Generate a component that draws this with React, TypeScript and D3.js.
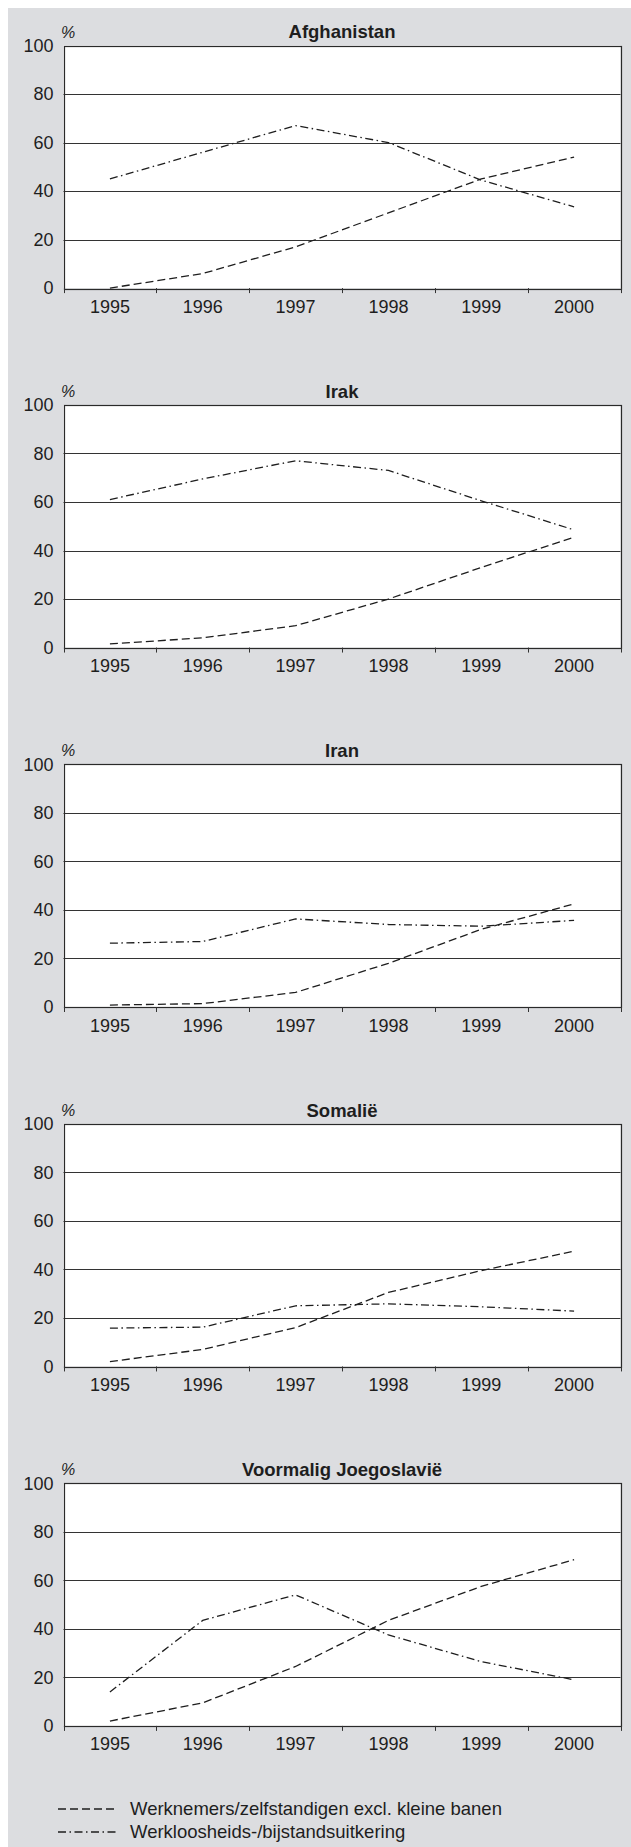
import React, { useRef, useEffect } from 'react';
import * as d3 from 'd3';

const years = ['1995', '1996', '1997', '1998', '1999', '2000'];
const countries = ['Afghanistan', 'Irak', 'Iran', 'Somalië', 'Voormalig Joegoslavië'];
const yTicks = [0, 20, 40, 60, 80, 100];

// Werknemers/zelfstandigen excl. kleine banen (dashed)
const afghanistanWerk = [0, 6, 17, 31, 45, 54];
const irakWerk = [1.5, 4, 9, 20, 33, 45.5];
const iranWerk = [0.8, 1.4, 6, 18, 32, 42.5];
const somalieWerk = [2, 7, 16, 30.5, 39.5, 47.5];
const joegoslavieWerk = [2, 9.5, 24.5, 43.5, 57.5, 68.5];

// Werkloosheids-/bijstandsuitkering (dash-dot)
const afghanistanUitk = [45, 56, 67, 60, 44.5, 33.5];
const irakUitk = [61, 69.5, 77, 73, 60.5, 48.5];
const iranUitk = [26.3, 27, 36.3, 34, 33.3, 35.7];
const somalieUitk = [15.8, 16.2, 25, 25.8, 24.6, 22.8];
const joegoslavieUitk = [14, 43.5, 54, 37.5, 26.5, 19];

const werkSeries = [afghanistanWerk, irakWerk, iranWerk, somalieWerk, joegoslavieWerk];
const uitkSeries = [afghanistanUitk, irakUitk, iranUitk, somalieUitk, joegoslavieUitk];

const legendLabels = ['Werknemers/zelfstandigen excl. kleine banen', 'Werkloosheids-/bijstandsuitkering'];

const DASH = '8,4';
const DASHDOT = '8,3.5,1.5,3.5';
const FONT = 'Liberation Sans, Arial, Helvetica, sans-serif';
const INK = '#1e1e1e';

export default function App() {
    const svgRef = useRef(null);

    const width = 631;
    const height = 1847;
    const plotLeft = 63.5;
    const plotRight = 620.5;
    const firstTop = 45.5;
    const panelStep = 359.45;
    const plotH = 242.6;

    useEffect(() => {
        const svg = d3.select(svgRef.current);
        svg.selectAll('*').remove();

        svg.append('rect')
            .attr('x', 8).attr('y', 8)
            .attr('width', width - 8).attr('height', height - 8)
            .attr('fill', '#dcdde0');

        const x = d3.scaleBand().domain(years).range([plotLeft, plotRight]).padding(0);

        countries.forEach((name, i) => {
            const top = firstTop + i * panelStep;
            const y = d3.scaleLinear().domain([0, 100]).range([top + plotH, top]);
            const g = svg.append('g');
            const crisp = (v: number) => Math.round(v) + 0.5;

            g.append('rect')
                .attr('x', plotLeft).attr('y', top)
                .attr('width', plotRight - plotLeft).attr('height', plotH)
                .attr('fill', '#fff');

            // gridlines
            g.selectAll('line.grid')
                .data(yTicks.filter(t => t > 0 && t < 100))
                .enter()
                .append('line')
                .attr('x1', plotLeft).attr('x2', plotRight)
                .attr('y1', d => crisp(y(d))).attr('y2', d => crisp(y(d)))
                .attr('stroke', '#333').attr('stroke-width', 1);

            // border
            g.append('rect')
                .attr('x', crisp(plotLeft)).attr('y', crisp(top))
                .attr('width', Math.round(plotRight - plotLeft)).attr('height', Math.round(plotH))
                .attr('fill', 'none').attr('stroke', '#2a2a2a').attr('stroke-width', 1.2);

            // category ticks
            const bounds = years.map(yr => x(yr) as number).concat([plotRight]);
            g.selectAll('line.tick')
                .data(bounds)
                .enter()
                .append('line')
                .attr('x1', d => crisp(d)).attr('x2', d => crisp(d))
                .attr('y1', y(0)).attr('y2', y(0) + 5)
                .attr('stroke', '#333').attr('stroke-width', 1);

            // y labels
            g.selectAll('text.ylab')
                .data(yTicks)
                .enter()
                .append('text')
                .attr('x', 53.5)
                .attr('y', d => y(d) + 6.3)
                .attr('text-anchor', 'end')
                .attr('font-family', FONT).attr('font-size', 18)
                .attr('fill', INK)
                .text(d => d);

            // x labels
            g.selectAll('text.xlab')
                .data(years)
                .enter()
                .append('text')
                .attr('x', d => (x(d) as number) + x.bandwidth() / 2)
                .attr('y', y(0) + 24.5)
                .attr('text-anchor', 'middle')
                .attr('font-family', FONT).attr('font-size', 18)
                .attr('fill', INK)
                .text(d => d);

            g.append('text')
                .attr('x', 61).attr('y', top - 8)
                .attr('font-family', FONT).attr('font-size', 16)
                .attr('font-style', 'italic')
                .attr('fill', INK)
                .text('%');

            g.append('text')
                .attr('x', (plotLeft + plotRight) / 2).attr('y', top - 7.2)
                .attr('text-anchor', 'middle')
                .attr('font-family', FONT).attr('font-size', 18.5)
                .attr('font-weight', 'bold')
                .attr('fill', INK)
                .text(name);

            const line = d3.line<number>()
                .x((_, j) => (x(years[j]) as number) + x.bandwidth() / 2)
                .y(d => y(d));

            g.append('path')
                .attr('d', line(werkSeries[i]))
                .attr('fill', 'none').attr('stroke', INK)
                .attr('stroke-width', 1.3).attr('stroke-dasharray', DASH);

            g.append('path')
                .attr('d', line(uitkSeries[i]))
                .attr('fill', 'none').attr('stroke', INK)
                .attr('stroke-width', 1.3).attr('stroke-dasharray', DASHDOT);
        });

        // legend
        const legend = svg.append('g');
        const rows = [
            { label: legendLabels[0], dash: DASH, base: 1815 },
            { label: legendLabels[1], dash: DASHDOT, base: 1838 },
        ];
        rows.forEach(r => {
            legend.append('line')
                .attr('x1', 58).attr('x2', 116)
                .attr('y1', r.base - 6).attr('y2', r.base - 6)
                .attr('stroke', INK).attr('stroke-width', 1.3)
                .attr('stroke-dasharray', r.dash);
            legend.append('text')
                .attr('x', 130).attr('y', r.base)
                .attr('font-family', FONT).attr('font-size', 18.5)
                .attr('fill', INK)
                .text(r.label);
        });
    }, []);

    return (
        <svg
            ref={svgRef}
            width={width}
            height={height}
            style={{ position: 'absolute', left: 0, top: 0, display: 'block' }}
        ></svg>
    );
}
